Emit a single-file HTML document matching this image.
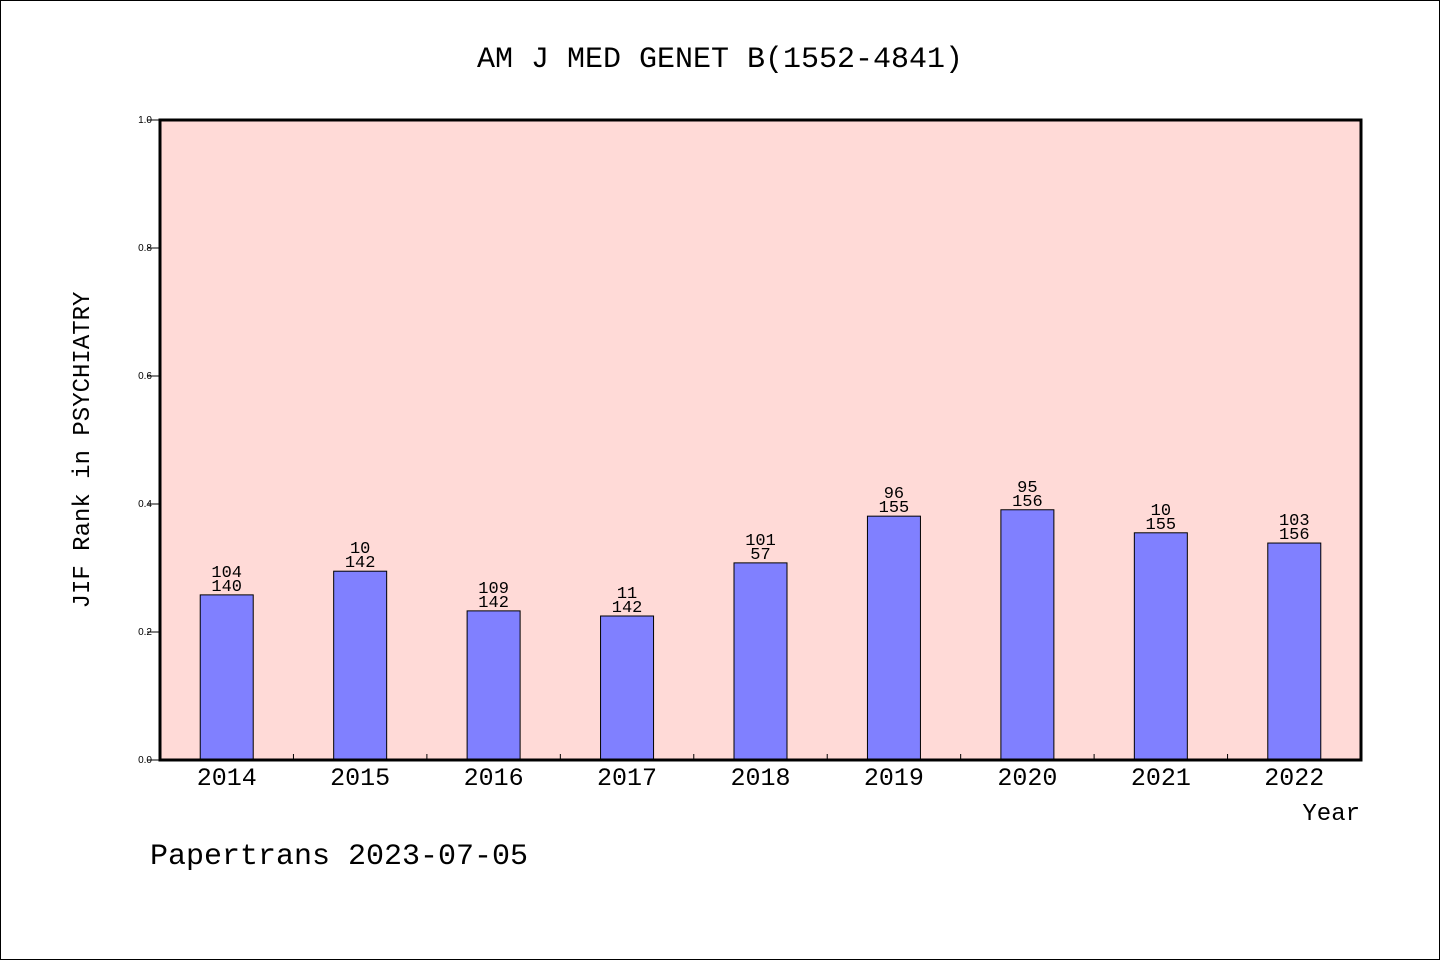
<!DOCTYPE html>
<html><head><meta charset="utf-8"><style>
body{margin:0;background:#fff}
svg{display:block;font-family:"Liberation Mono","DejaVu Sans Mono",monospace}
</style></head><body>
<svg id="c" width="1440" height="960">
<rect x="0.5" y="0.5" width="1439" height="959" fill="#fff" stroke="#000"/>
<text x="720" y="67" text-anchor="middle" font-size="30">AM J MED GENET B(1552-4841)</text>
<rect x="160" y="120" width="1201" height="640" fill="#ffdad7"/>
<g id="bars"></g>
<g id="yt"></g>
<g id="xt"></g>
<rect x="160" y="120" width="1201" height="640" fill="none" stroke="#000" stroke-width="3"/>
<text x="1360" y="820" text-anchor="end" font-size="24">Year</text>
<text transform="translate(89,450) rotate(-90)" text-anchor="middle" font-size="24">JIF Rank in PSYCHIATRY</text>
<text x="150" y="864" font-size="30">Papertrans 2023-07-05</text>
</svg>
<script>
const years=["2014","2015","2016","2017","2018","2019","2020","2021","2022"];
const values=[0.258,0.295,0.233,0.225,0.308,0.381,0.391,0.355,0.339];
const ranks=["104","10","109","11","101","96","95","10","103"];
const totals=["140","142","142","142","57","155","156","155","156"];
const yTicks=[0,0.2,0.4,0.6,0.8,1.0];
const X0=160,X1=1361,Y0=760,Y1=120;
const bw=(X1-X0)/years.length;
const xs=i=>X0+bw*(i+0.5);
const ys=v=>Y0-(Y0-Y1)*v;
const NS="http://www.w3.org/2000/svg";
function mk(t,a,p,txt){const e=document.createElementNS(NS,t);for(const k in a)e.setAttribute(k,a[k]);if(txt!==undefined)e.textContent=txt;p.appendChild(e);return e;}
const B=document.getElementById('bars'),YT=document.getElementById('yt'),XT=document.getElementById('xt');
years.forEach((y,i)=>{
 const cx=xs(i),top=ys(values[i]);
 const r=mk('rect',{x:cx-26.5,y:top,width:53,height:Y0-top,fill:'#8080ff',stroke:'#000','stroke-width':1},B);
 
 
 const t1=mk('text',{x:cx,y:top-18,'text-anchor':'middle','font-size':17},B,ranks[i]);
 
 
 const t2=mk('text',{x:cx,y:top-4,'text-anchor':'middle','font-size':17},B,totals[i]);
 
 
 const xl=mk('text',{x:cx,y:785,'text-anchor':'middle','font-size':25},XT,y);
 
 
 if(i>0){const tk=mk('line',{x1:X0+bw*i,x2:X0+bw*i,y1:Y0,y2:Y0-6,stroke:'#000'},XT);
 
 }
});
yTicks.forEach(v=>{
 const y=ys(v);
 const l=mk('line',{x1:X0-13,x2:X0,y1:y,y2:y,stroke:'#000'},YT);
 
 
 const t=mk('text',{x:X0-8,y:y+3,'text-anchor':'end','font-size':10,'font-family':'Liberation Sans, sans-serif'},YT,v.toFixed(1));
 
 
});
</script>
</body></html>
